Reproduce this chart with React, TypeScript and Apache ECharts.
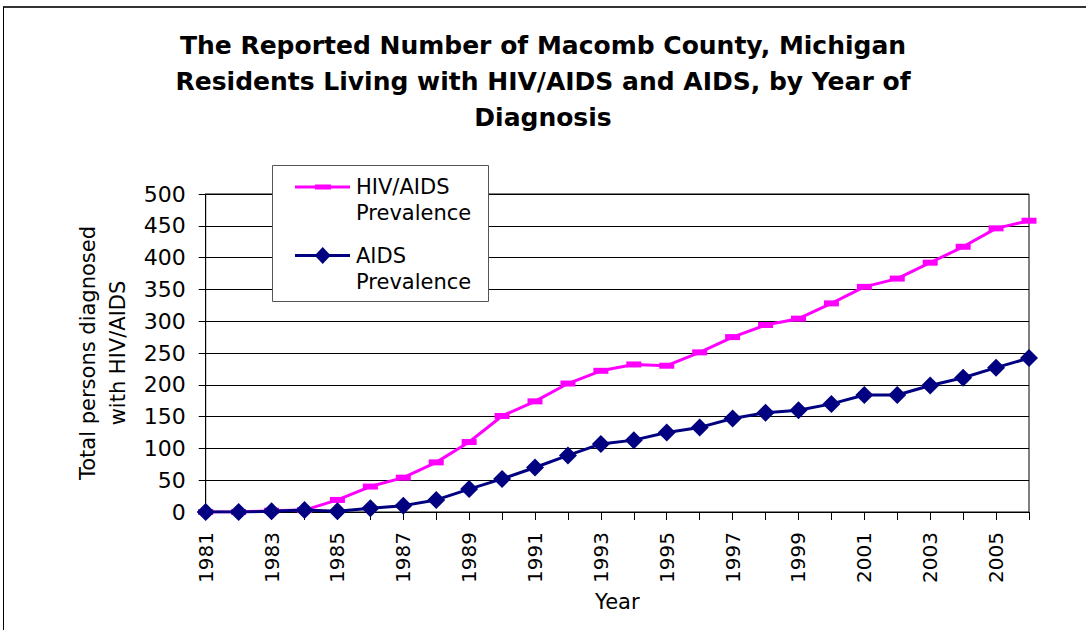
import React, { useEffect, useRef } from "react";
import * as echarts from "echarts";

const years = [
  "1981", "1982", "1983", "1984", "1985", "1986", "1987", "1988", "1989", "1990",
  "1991", "1992", "1993", "1994", "1995", "1996", "1997", "1998", "1999", "2000",
  "2001", "2002", "2003", "2004", "2005", "2006",
];
const hivAidsPrevalence = [
  0, 0, 2, 3, 19, 40, 54, 78, 110, 151, 174, 202, 222, 232, 230, 251, 275, 294, 304, 328,
  354, 367, 392, 417, 446, 458,
];
const aidsPrevalence = [
  0, 0, 1, 3, 1, 6, 10, 19, 36, 52, 70, 89, 107, 113, 125, 133, 147, 156, 160, 170,
  184, 184, 199, 211, 227, 242,
];
const titleText =
  "The Reported Number of Macomb County, Michigan\nResidents Living with HIV/AIDS and AIDS, by Year of\nDiagnosis";
const seriesNames = ["HIV/AIDS Prevalence", "AIDS Prevalence"];
const legendLabels = ["HIV/AIDS\nPrevalence", "AIDS\nPrevalence"];
const yAxisTitle = "Total persons diagnosed\nwith HIV/AIDS";
const xAxisTitle = "Year";

const FONT = "DejaVu Sans";
const MAGENTA = "#FF00FF";
const NAVY = "#000080";

export default function App() {
  const ref = useRef<HTMLDivElement>(null);

  useEffect(() => {
    document.body.style.margin = "0";
    const chart = echarts.init(ref.current!, null, { renderer: "svg" });
    chart.setOption({
      animation: false,
      backgroundColor: "#fff",
      title: {
        text: titleText,
        left: "center",
        top: 27,
        padding: 0,
        textStyle: {
          fontFamily: FONT,
          fontWeight: "bold",
          fontSize: 25,
          lineHeight: 36,
          color: "#000",
        },
      },
      grid: {
        left: 205.7,
        right: 57,
        top: 194,
        bottom: 118,
        containLabel: false,
        show: true,
        borderColor: "#000",
        borderWidth: 1,
        backgroundColor: "transparent",
      },
      xAxis: {
        type: "category",
        data: years,
        boundaryGap: false,
        name: xAxisTitle,
        nameLocation: "middle",
        nameGap: 79,
        nameTextStyle: { fontFamily: FONT, fontSize: 21, color: "#000" },
        axisLine: { lineStyle: { color: "#000", width: 1 } },
        axisTick: { show: true, interval: 0, length: 8, lineStyle: { color: "#000" } },
        axisLabel: {
          interval: 1,
          rotate: 90,
          margin: 20,
          fontFamily: FONT,
          fontSize: 20,
          color: "#000",
        },
        splitLine: { show: false },
      },
      yAxis: {
        type: "value",
        min: 0,
        max: 500,
        interval: 50,
        name: yAxisTitle,
        nameLocation: "middle",
        nameRotate: 90,
        nameGap: 73,
        nameTextStyle: { fontFamily: FONT, fontSize: 21, lineHeight: 30, color: "#000" },
        axisLine: { show: true, lineStyle: { color: "#000", width: 1 } },
        axisTick: { show: true, length: 7, lineStyle: { color: "#000" } },
        axisLabel: { margin: 20, fontFamily: FONT, fontSize: 22, color: "#000" },
        splitLine: { show: true, lineStyle: { color: "#000", width: 1 } },
      },
      series: [
        {
          name: seriesNames[0],
          type: "line",
          data: hivAidsPrevalence,
          symbol: "rect",
          symbolSize: [15, 6],
          itemStyle: { color: MAGENTA },
          lineStyle: { color: MAGENTA, width: 3 },
          z: 2,
        },
        {
          name: seriesNames[1],
          type: "line",
          data: aidsPrevalence,
          symbol: "diamond",
          symbolSize: [18, 18],
          itemStyle: { color: NAVY },
          lineStyle: { color: NAVY, width: 3 },
          z: 3,
        },
      ],
      graphic: [
        {
          type: "line",
          z: 50,
          shape: { x1: 3, y1: 7, x2: 1086, y2: 7 },
          style: { stroke: "#333", lineWidth: 2 },
        },
        {
          type: "line",
          z: 50,
          shape: { x1: 3.5, y1: 7, x2: 3.5, y2: 630 },
          style: { stroke: "#000", lineWidth: 1 },
        },
        {
          type: "group",
          z: 100,
          children: [
            {
              type: "rect",
              z: 100,
              shape: { x: 272.5, y: 165.5, width: 216, height: 136 },
              style: { fill: "#fff", stroke: "#555", lineWidth: 1 },
            },
            {
              type: "line",
              z: 101,
              shape: { x1: 295, y1: 187, x2: 350, y2: 187 },
              style: { stroke: MAGENTA, lineWidth: 3 },
            },
            {
              type: "rect",
              z: 102,
              shape: { x: 315, y: 184.5, width: 16, height: 5 },
              style: { fill: MAGENTA },
            },
            {
              type: "text",
              z: 102,
              x: 356,
              y: 174,
              style: {
                text: legendLabels[0],
                fontFamily: FONT,
                fontSize: 21,
                lineHeight: 26,
                fill: "#000",
              },
            },
            {
              type: "line",
              z: 101,
              shape: { x1: 295, y1: 255.5, x2: 350, y2: 255.5 },
              style: { stroke: NAVY, lineWidth: 3 },
            },
            {
              type: "polygon",
              z: 102,
              shape: {
                points: [
                  [322.7, 247],
                  [330.7, 255.5],
                  [322.7, 264],
                  [314.7, 255.5],
                ],
              },
              style: { fill: NAVY },
            },
            {
              type: "text",
              z: 102,
              x: 356,
              y: 242.5,
              style: {
                text: legendLabels[1],
                fontFamily: FONT,
                fontSize: 21,
                lineHeight: 26,
                fill: "#000",
              },
            },
          ],
        },
      ],
    });
    return () => chart.dispose();
  }, []);

  return <div ref={ref} style={{ width: 1086, height: 630 }} />;
}
